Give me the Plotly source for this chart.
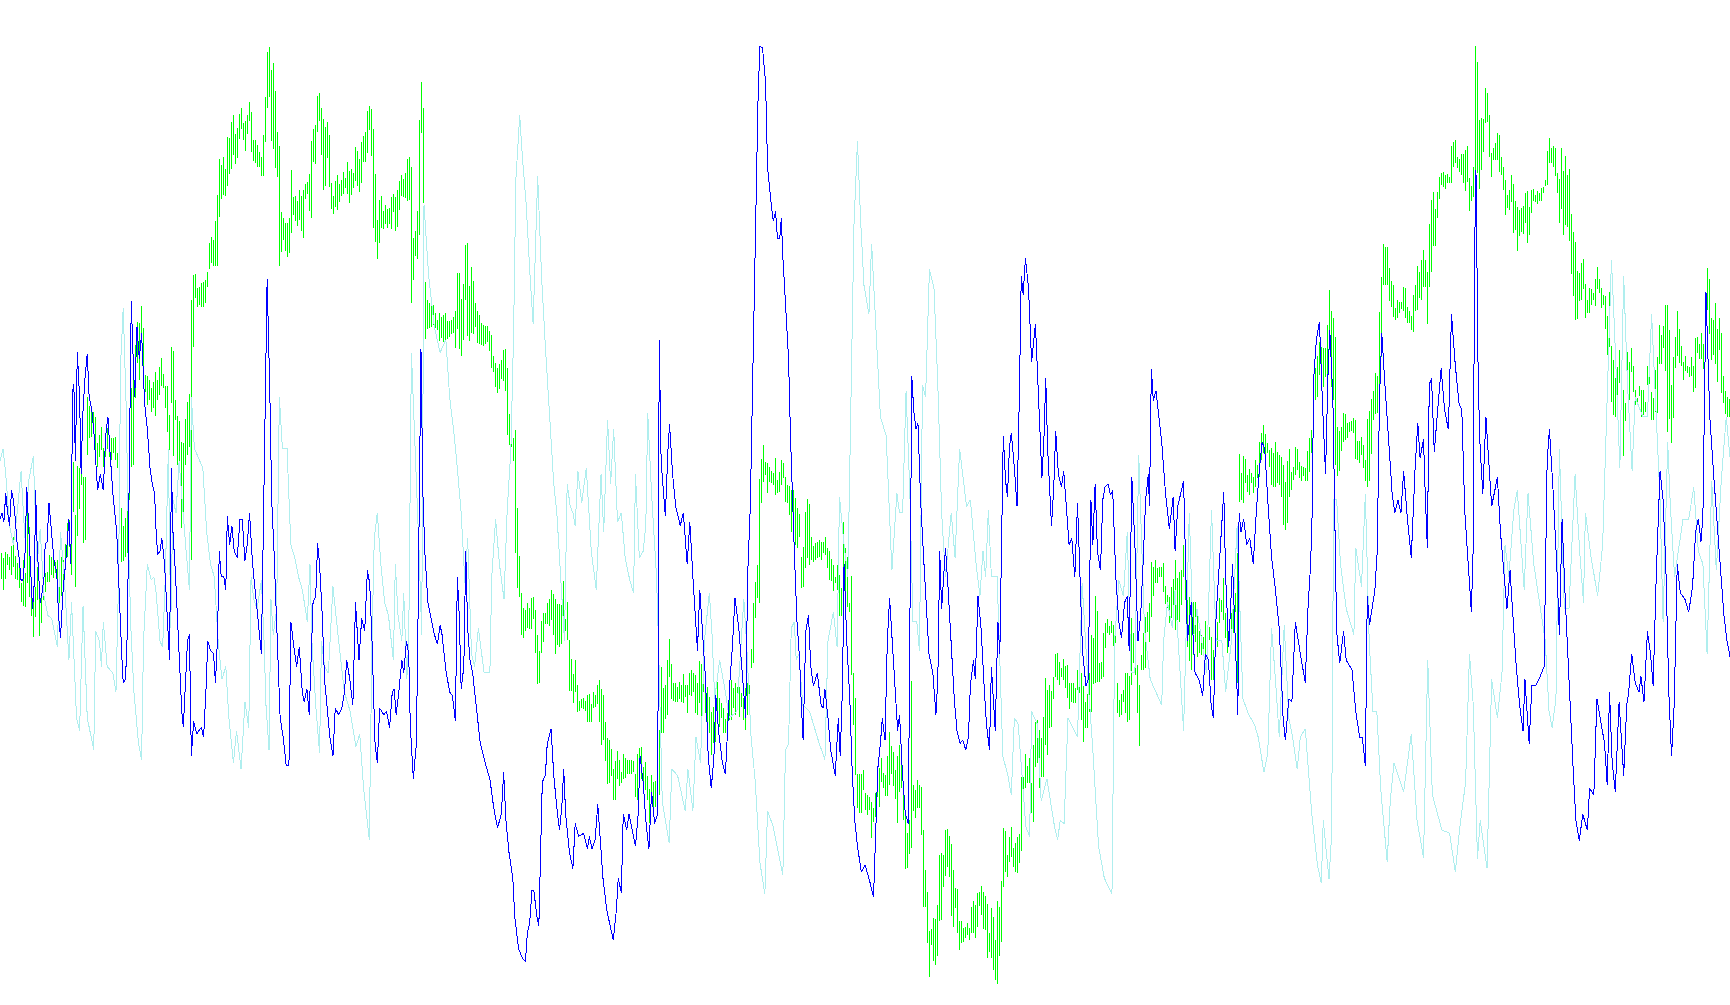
import numpy as np
import plotly.graph_objects as go

# Readings from the picture. Blue and pale lines: (sample, value) pairs read over three spans.
blue_a_x = [0,5,10,15,20,25,30,35,40,45,50,55,60,65,70,75,80,85,90,93,97,100,105,110,115,118,123,128,135,142,148,153,158,165,172,180,185,190,193,197,202,208,212,216,222,228,233,240,246,250,255,262,270,276,282,288,295,305,312,318,322,328,333,338,343,348,352,358,364,370,378,385,392,398,404,408,412,418,423,430,436,443,448,452,458,465,470,475,479,485,490,495,500,506,514,526,532,538,543,550,558,563,568,573,578,585,590,594,600,606,612,620,627,633,640,646,652,660,668,675,683,688,693,698,705,710,716,722,728,732,740,748,755,760,768,775,782,790,795,802,808,813,818,825,830,835,842,848,855,862,870,876,885,893,900,906,914,922,929,938,945,953,960,966,972,976,980,986,992,1003,1010,1018,1025,1030,1035,1042,1050,1055,1062,1068,1072,1080,1088,1092,1096,1100,1105,1110,1118,1125,1135,1143,1150,1155,1165,1175,1182,1190,1195,1200,1205,1212,1217,1222,1228,1235,1245,1255,1270,1280,1290,1300,1310,1316,1322,1330,1340,1345,1355,1365,1373,1378,1384,1390,1395,1403,1408,1413,1417,1425,1430,1440,1447,1455,1462,1468,1473,1478,1488,1497,1503,1512,1525,1535,1540,1547,1555,1562]
blue_a_y = [810,800,815,770,800,820,765,780,810,850,870,905,905,870,760,820,870,950,905,765,850,880,940,925,900,850,845,785,840,880,890,960,995,920,875,810,880,610,600,720,550,620,740,650,590,552,620,640,680,720,765,740,765,680,650,710,770,830,950,1020,1065,1060,980,720,470,560,620,510,560,520,630,670,730,755,770,830,865,860,840,880,960,1030,730,830,890,990,1060,1110,1135,1050,1000,990,1180,1125,1145,1135,1150,1080,1000,1015,1020,1065,1000,860,900,900,920,805,850,820,860,870,810,810,875,850,800,880,930,980,1020,830,600,435,610,780,860,960,1060,1120,1150,1195,1195,970,1010,1040,1010,1080,1095,1075,1115,1010,940,930,848,880,960,1060,1100,1150,1180,1105,1115,1105,1080,1030,1060,1100,940,1030,965,985,890,910,1000,1070,1160,1190,1105,1115,1110,1135,1080,1075,1115,1080,1030,1050,1000,1020,1130,1215,1160,980,780,545,770,860,940,960,990,1005,975,990,1045,1080,1085,1125,900,960,1075,1040,860,980,1030,1050,1110,1160,1195,1215,1260,1292,1270,1205,1280,1330,1370,1430,1480,1495,1500,1455,1440,1390,1390,1430,1445,1300,1220,1210,1160,1137,1210,1260,1295,1260,1200,1270,1330,1355,1285,1305,1300,1325,1305,1325,1310,1255]
blue_b_x = [55,60,70,87,95,100,108,113,122,128,145,152,157,165,172,180,187,195,203,207,212,218,223,230,234,242,250,262,270,280,287,295,302,307,313,320,328,335,343,350,355,362,372,380,386,392,398,405,415,425,433,438,445,452,457,465,470,477,485,490,500,505,511,516,522,526,530,537,545,550,555,560,567,574,578,583,590,597,603,610,620,630,635,640,648,655,667,675,680,686,690,697,705,711,718,725,735,745,757,767,771,778,785,790,797,803,809,815,823,830,835,842,850,858,862,867,872,878,883,890,897,905,912,922,930,935,940,945,955,962,970,978,985,993,1000,1008,1015,1020,1028,1033,1040,1048,1055,1062,1070,1075,1085,1092,1097,1102,1106,1112,1117,1122,1127,1135,1142,1148,1153,1158,1164,1172,1180,1190,1197,1203,1207,1212,1217,1222,1232,1238,1243,1250,1258,1264,1272,1278,1285,1293,1300,1308,1313,1322,1328,1335,1340,1346,1352,1360,1366,1372,1380,1386,1392,1400,1408,1415,1423,1430,1435,1442,1450,1458,1465,1472,1478,1485,1488,1493,1498,1505,1512,1520,1530,1540,1550,1555,1562]
blue_b_y = [1320,1370,1420,1467,1420,1370,1393,1270,1295,1270,1320,1270,1180,1220,1280,1325,1235,1285,1270,530,720,770,805,700,662,740,790,820,800,880,815,900,960,1015,920,990,1060,1180,1230,1180,1085,1140,1190,1208,1120,1060,1010,933,980,1060,1120,900,790,570,420,160,72,75,130,260,320,345,330,372,372,340,400,480,560,680,780,860,970,1030,1095,1155,985,960,1040,1070,1050,1100,1105,1075,1120,1170,1210,1120,1180,1070,880,1000,1090,1200,1280,1320,1360,1350,1375,1400,1330,1200,1160,1120,1155,1000,933,1000,1070,1140,1115,1200,1270,1285,1000,587,640,670,660,780,860,940,1020,1050,1115,1060,860,950,855,920,1000,1090,1140,1160,1155,1170,1150,1070,1030,1060,930,980,1060,1130,1170,1040,1140,970,1020,860,680,750,775,700,675,730,790,620,430,460,403,450,565,505,600,700,745,690,590,700,820,760,672,740,760,735,800,850,840,900,785,920,1015,1070,1060,780,850,755,860,890,780,760,755,772,765,900,970,995,940,930,1015,745,850,1000,960,870,780,740,790,575,625,610,650,690,770,825,775,860,790]
blue_c_x = [140,145,150,160,170,180,190,197,205,212,218,225,235,245,250,258,268,275,282,285,290,297,305,313,322,330,337,345,352,360,370,380,390,396,400,406,415,423,432,445,458,465,472,476,480,487,495,503,511,517,522,530,535,540,548,558,565,580,590,600,607,615,620,626,640,646,652,658,665,675,685,692,700,708,715,725,735,745,752,758,767,772,777,782,788,795,805,813,822,832,840,850,860,867,875,885,892,897,900,904,910,915,922,930,937,945,955,960,968,978,985,993,1000,1008,1018,1027,1032,1043,1050,1060,1072,1082,1090,1096,1105,1115,1122,1129,1137,1142,1150,1158,1165,1174,1183,1195,1201,1212,1220,1232,1240,1247,1253,1260,1268,1278,1290,1298,1303,1311,1320,1330,1335,1343,1352,1360,1367,1375,1385,1393,1400,1408,1415,1422,1430,1438,1450,1460,1470,1478,1485,1492,1497,1505,1515,1525,1535,1542,1552,1560,1568]
blue_c_y = [750,870,1000,940,1050,1060,1085,1020,1030,1100,1120,960,870,768,900,1010,880,1000,1115,800,830,810,850,840,880,800,740,690,700,780,870,920,980,1060,1120,1155,1090,1095,970,1020,1065,950,880,800,590,530,502,630,740,590,515,620,830,985,1035,985,1030,1045,1110,1150,1150,1195,930,975,920,860,620,520,590,680,770,800,780,800,735,810,870,730,660,715,685,780,855,600,590,705,625,575,640,670,490,570,630,640,800,900,955,850,410,265,600,700,770,650,720,790,760,745,830,900,950,890,960,1030,1100,1140,1060,1160,1070,1070,1055,1040,720,670,760,880,990,810,930,1000,1110,1200,1280,1312,1270,1295,1230,1240,1090,1130,1160,1225,1080,1190,1235,1095,1210,1100,1080,1020,1065,1080,1055,1095,985,1020,1070,900,735,780,880,1080,1180,1100,880,925,935,955,915,830,810,845,805,455,650,740,830,880,960,1000,1025]

cyan_a_x = [0,8,15,25,35,45,55,65,75,87,97,105,115,125,135,150,158,168,180,187,195,200,208,217,228,245,250,260,265,270,280,295,303,310,315,322,330,336,342,350,362,370,375,385,395,402,408,418,425,432,440,446,452,460,468,475,485,495,500,508,530,540,550,560,570,580,590,598,610,618,630,640,650,656,663,672,683,690,695,703,708,714,723,730,738,750,760,770,780,790,803,810,815,825,835,840,848,858,870,885,900,915,930,940,950,965,972,978,986,995,1005,1015,1028,1033,1040,1050,1055,1063,1068,1075,1085,1095,1102,1108,1120,1135,1150,1165,1175,1187,1195,1205,1215,1222,1232,1240,1250,1265,1280,1285,1295,1305,1317,1325,1335,1342,1348,1358,1365,1375,1385,1393,1405,1415,1425,1435,1447,1455,1465,1475,1482,1490,1497,1503,1510,1520,1532,1545,1558]
cyan_a_y = [720,700,740,820,850,800,735,840,750,712,880,825,930,960,965,1010,830,900,1030,940,1050,1120,1140,945,1120,1170,985,1000,1040,970,1040,1050,1080,900,570,480,640,850,980,1080,1160,1185,1000,880,905,900,925,1000,1010,900,700,980,780,800,720,780,850,920,620,700,730,830,880,900,1000,1060,1040,1120,1190,1140,1200,1095,1135,900,935,950,905,1000,1100,1170,935,990,950,620,700,700,850,870,900,920,970,880,1000,1100,1175,1000,1040,1050,915,1000,1080,1110,1165,1145,1230,1310,1000,840,800,880,940,960,1030,880,960,1000,925,1060,1000,550,700,860,990,320,430,510,550,530,620,680,730,800,910,840,1020,1040,980,1050,1050,900,810,880,935,800,700,520,280,180,245,320,430,505,275,430,540,640,755,800,900,1000,755,790,800,820,735,785,730,860,920]
cyan_b_x = [55,62,72,80,88,98,108,118,130,140,145,155,165,172,177,187,200,205,215,233,240,255,275,282,295,303,315,325,338,345,352,365,380,390,410,428,435,447,458,470,483,490,505,530,537,545,552,560,565,572,582,600,625,640,648,662,672,678,690,700,710,716,725,733,742,755,762,775,785,800,808,815,828,835,843,852,862,870,880,887,895,903,913,925,935,945,955,970,980,992,1010,1020,1035,1045,1053,1060,1067,1075,1090,1097,1105,1118,1127,1135,1145,1165,1175,1180,1195,1205,1220,1240,1248,1255,1265,1275,1300,1312,1325,1340,1355,1370,1390,1397,1408,1420,1430,1440,1450,1460,1475,1490,1505,1520,1525,1535,1548,1555]
cyan_b_y = [740,830,655,755,670,815,800,870,905,925,740,870,860,820,645,770,900,1000,1250,1315,1200,1210,1265,1200,1265,1150,1190,1000,925,990,1090,1030,1080,1120,1110,935,1000,1150,1220,1345,1395,1265,1290,1365,1170,1160,980,970,1030,1020,1100,1110,1160,1185,1000,955,1010,775,850,900,560,350,220,340,445,490,380,530,650,680,800,890,770,800,800,610,770,970,970,1015,600,620,420,450,600,800,900,800,870,700,790,780,880,930,860,900,795,900,900,1020,1180,1210,1240,1120,1130,1290,1305,1110,1130,1250,1215,1290,1310,1280,1285,1120,1150,910,1040,1170,1320,1370,1395,1000,905,930,830,1050,1050,710,980,1060,1080,1100,1000,940,980,920]
cyan_c_x = [140,155,165,175,200,213,225,240,250,265,280,295,310,325,335,350,360,370,380,390,403,415,425,437,445,458,475,490,500,505,520,527,532,540,550,565,585,590,605,615,625,635,645,655,672,680,690,715,735,750,767,778,790,815,835,850,862,877,887,897,908,915,933,945,960,972,980,990,1003,1012,1030,1040,1055,1085,1095,1103,1113,1122,1135,1147,1163,1175,1185,1190,1205,1222,1235,1245,1258,1265,1272,1280,1290,1300,1312,1320,1340,1352,1363,1375,1385,1393,1405,1412,1423,1445,1460,1473,1485,1497,1508,1520,1532,1545,1558,1568]
cyan_c_y = [1140,800,1000,950,1050,795,1000,1000,1080,1000,820,1090,1115,1130,1150,1205,1175,980,1060,1150,975,1120,1150,1200,1150,1137,1270,1350,1378,1280,1372,1300,780,780,880,950,990,855,915,770,1000,1110,1110,1230,1345,1250,1190,1235,1145,1280,1338,1030,1240,1295,1300,1360,1290,1220,1020,1100,1340,1280,1355,1060,1120,1050,850,900,795,765,920,770,880,1000,1110,1135,1090,700,950,950,740,860,940,800,870,930,850,650,405,500,620,730,430,600,735,620,650,650,490,650,780,970,690,790,900,810,810,760,860,880,1020,750,890,750,650,715]

# Green bars: high and low of every bar, read span by span.
green_1_top = [758,775,756,762,770,738,712,768,790,800,850,780,820,640,680,850,880,860,800,880,880,850,820,815,765,770,770,785,780,795,770,780,733,670,660,665,487,645,498,505,495,530,530,290,318,335,337,352,430,405,380,445,410,385,410,415,415,412,460,500,625,678,655,603,490,265,185,135,65,70,18,85,225,228,240,265,245,215,240,200,175,222,258,258,345,140,153,300,348,363,425,430,358,305,282,0,-75,-78,-35,-40,-50,-55,-60,-85,-171,-189,-180,-237]
green_1_bottom = [838,870,836,795,810,825,800,838,840,865,905,917,920,850,890,948,1010,950,900,1008,970,900,875,845,845,825,835,818,855,910,887,875,793,770,740,824,635,862,708,628,555,728,720,465,415,412,390,465,500,470,450,500,470,448,470,480,460,480,503,625,785,782,770,760,600,500,495,295,190,240,120,225,275,315,300,337,325,347,300,285,258,265,323,395,450,310,468,360,495,495,683,660,495,465,440,780,140,-5,22,15,22,22,10,-40,-93,-111,-102,-102]
green_2_top = [465,357,375,352,388,292,295,247,225,282,265,222,205,250,243,225,186,216,300,300,316,336,350,286,170,37,22,90,70,153,277,318,517,534,548,550,534,391,472,468,484,450,468,450,432,426,402,303,267,255,168,160,205,236,260,246,285,430,468,423,405,432,420,396,415,366,392,386,400,321,333,356,306,288,276,213,198,207,267,402,540,480,468,513,495,507,505,471,462,471,450,423,405,417,400,357,351,381,594,573,513,240,126,204,725,780,789,780]
green_2_bottom = [678,530,477,465,468,438,402,387,345,372,354,298,268,300,332,282,243,336,362,368,380,382,407,407,305,204,172,303,326,384,410,677,635,600,632,650,638,578,525,543,557,540,572,593,477,462,513,533,366,371,275,242,345,450,437,355,440,507,521,502,510,487,468,463,443,462,489,465,444,422,437,456,430,365,366,340,270,348,565,605,657,608,564,567,552,563,552,568,517,573,560,510,468,471,474,483,480,789,720,648,657,585,278,490,897,867,864,861]
green_3_top = [182,204,224,203,215,210,205,228,228,224,216,200,92,92,165,123,14,8,130,76,115,177,200,210,231,238,240,242,255,266,325,345,358,348,335,308,306,358,488,488,555,532,750,885,988,1030,1035,1015,1030,1003,1000,1035,1105,1150,1068,1045,1045,1015,1005,980,990,1005,1020,1020,1023,955,1060,1014,1120,1172,1215,1175,1245,1290,1285,1282,1292,1275,1270,1300,1266,1275,1245,1233,1258,1275,1350,1395,1400,1425,1480,1458,1430,1455,1490,1440,1450,1455,1457,1455,1460,1495,1440,1422,1420,1475,1462,1500]
green_3_bottom = [238,245,252,282,275,285,285,278,272,262,260,302,250,305,324,280,168,270,283,260,262,244,287,292,294,296,290,285,310,358,370,412,428,418,390,395,422,545,575,580,620,875,973,1000,1105,1115,1095,1085,1090,1090,1060,1155,1242,1240,1155,1125,1075,1075,1080,1065,1105,1158,1135,1140,1130,1060,1095,1120,1262,1262,1295,1265,1322,1320,1310,1312,1320,1350,1350,1350,1310,1308,1300,1350,1415,1400,1460,1522,1520,1500,1568,1568,1510,1530,1520,1510,1505,1495,1495,1495,1490,1560,1568,1530,1510,1540,1540,1568]
green_4_top = [1048,1005,1025,1022,1000,870,680,745,735,660,598,672,730,730,740,727,735,702,735,735,698,690,700,705,730,662,672,700,745,740,770,815,800,815,725,775,790,805,838,820,770,720,745,730,742,740,760,775,745,730,735,627,490,425,375,118,57,15,65,70,80,92,100,55,120,95,60,68,110,135,138,150,150,175,205,222,350,320,215,178,192,290,318,310,305,300,305,305,290,325,333,357,375,410,375,405,445,245,325,350,490,408,700,775,1003,1003,1003,990]
green_4_bottom = [1148,1090,1105,1100,1100,1065,880,880,838,825,710,778,782,785,785,778,785,788,770,820,765,768,755,818,825,790,830,755,820,905,880,945,908,905,825,860,835,878,880,862,840,840,805,825,780,830,800,840,870,825,770,685,670,535,475,490,190,125,105,158,125,130,135,165,160,155,135,115,185,190,225,275,240,315,325,290,445,440,385,355,375,360,365,360,355,350,360,340,345,385,420,422,452,430,450,528,528,460,480,500,515,705,855,1005,1105,1120,1120,1050]
green_5_top = [430,435,440,455,475,430,365,355,325,370,375,318,245,288,305,360,318,285,340,430,490,548,510,92,405,420,390,405,410,540,660,725,842,838,805,808,765,615,610,615,540,538,558,582,660,715,718,812,812,835,832,820,835,770,752,765,728,725,708,725,738,762,848,775,800,870,752,770,692,533,543,615,560,532,595,578,560,552,380,380,312,348,325,400,285,215,210,240,265,200,85,120,105,122,82,12,10,35,55,28,47,45,100,100,100,115,60,48]
green_5_bottom = [480,495,480,565,515,500,440,472,395,415,438,438,405,372,408,447,518,425,415,510,657,655,612,595,483,505,475,475,555,770,770,880,982,885,932,945,918,812,810,710,678,650,680,798,830,775,850,900,880,875,865,855,870,850,848,865,830,768,795,838,840,925,905,925,960,990,1002,918,875,710,665,680,635,622,650,665,670,640,603,440,415,400,400,490,515,350,340,415,380,380,285,315,235,232,148,82,90,105,80,90,115,145,178,155,158,160,120,128]
green_6_top = [760,798,845,822,758,645,655,528,572,728,725,640,610,598,618,602,615,610,790,840,822,810,758,760,768,595,640,730,735,795,705,640,590,575,550,425,440,420,445,440,440,430,498,525,530,500,478,420,475,455,450,375,450,455,530,590,545,545,575,632,645,650,603,625,620,650,690,690,605,535,540,473,580,565,605,578,518,520,400,102,160,108,118,165,148,160,170,120,135,65,38,15,42,68,90,85,100,65,95,105,110,135,185,122,87,155,140,82]
green_6_bottom = [900,965,925,925,875,875,792,788,785,785,778,770,685,640,645,638,678,668,878,892,885,845,880,905,900,795,730,765,880,978,750,750,745,635,665,592,528,490,488,470,470,515,552,565,610,595,590,630,600,605,555,470,540,680,722,750,705,665,712,698,705,690,720,710,660,780,780,710,680,610,575,600,655,700,640,640,640,575,790,245,240,250,190,215,225,190,218,200,175,172,120,100,110,100,140,195,200,200,190,195,232,315,330,310,232,210,180,165]
green_7_top = [1228,1265,1278,1282,1285,1232,1195,1170,1035,985,948,905,920,925,925,855,750,812,835,892,1160,1172,1162,1120,1122,1148,1145,1142,1133,1140,1202,1203,1192,1215,1260,1138,1113,1078,1052,1000,1008,815,710,612,622,622,685,722,735,805,780,785,785,740,745,800,812,828,765,735,678,695,660,630,660,695,552,480,455,508,455,410,398,395,405,403,410,318,305,300,350,358,342,342,330,318,415,437,380,18,65,240,235,237,144,160,225,340,325,310,280,285,350,380,420,465,450,405]
green_7_bottom = [1290,1313,1323,1308,1322,1322,1295,1240,1180,1080,1072,1005,1040,1040,1010,1010,930,1040,1080,1275,1308,1292,1232,1205,1200,1195,1175,1172,1180,1258,1260,1270,1245,1285,1322,1342,1322,1242,1140,1122,1120,1060,950,735,735,735,782,800,830,840,835,820,808,812,835,850,850,870,875,812,810,775,780,740,740,852,740,695,618,618,533,477,435,440,447,430,430,430,380,368,385,395,405,428,452,425,513,482,472,390,400,447,390,335,248,245,352,410,360,360,360,395,405,450,525,505,510,485]
green_8_top = [162,212,232,240,235,228,190,183,230,180,178,195,183,188,173,170,150,63,25,55,48,53,130,148,55,123,78,135,118,252,306,337,423,430,400,388,462,510,475,478,490,447,410,447,475,495,498,558,485,648,690,745,712,660,740,780,820,667,697,655,708,780,805,768,780,780,815,708,712,785,805,720,682,585,615,588,525,525,600,765,682,622,544,598,648,695,678,708,712,682,708,625,620,642,610,642,492,415,447,565,570,518,598,565,608,737,783,802,808]
green_8_bottom = [308,300,362,318,305,312,280,338,315,250,212,215,222,212,212,190,168,165,98,100,110,138,188,278,238,315,285,292,332,432,498,570,568,512,510,477,565,550,548,525,510,528,478,490,533,525,598,675,650,815,855,860,820,760,815,978,872,790,810,725,785,825,825,798,862,855,845,765,762,870,870,845,848,702,702,655,722,905,868,940,865,715,678,700,708,750,722,730,742,738,785,775,670,688,688,718,610,540,612,690,675,702,755,660,790,820,852,860,862]

# Scale of each reading: where it starts on the chart, its first height and its vertical scale.
green_spans = [
    (green_1_top, green_1_bottom, 0, 300, 3.0),
    (green_2_top, green_2_bottom, 216, 40, 3.0),
    (green_3_top, green_3_bottom, 432, 240, 2.8),
    (green_4_top, green_4_bottom, 648, 440, 3.0),
    (green_5_top, green_5_bottom, 864, 650, 3.0),
    (green_6_top, green_6_bottom, 1080, 420, 3.0),
    (green_7_top, green_7_bottom, 1296, 40, 3.0),
    (green_8_top, green_8_bottom, 1512, 130, 3.0),
]

LINE_X_SCALE = 2.613
LINE_Y_SCALE = 1568 / 1005

def line_x(values, start):
    return start + np.asarray(values) / LINE_X_SCALE

def line_y(*parts):
    return np.concatenate([np.asarray(p) for p in parts]) / LINE_Y_SCALE

blue_x = np.concatenate([line_x(blue_a_x, 0), line_x(blue_b_x, 580), line_x(blue_c_x, 1130)])
blue_y = line_y(blue_a_y, blue_b_y, blue_c_y)
cyan_x = np.concatenate([line_x(cyan_a_x, 0), line_x(cyan_b_x, 580), line_x(cyan_c_x, 1130)])
cyan_y = line_y(cyan_a_y, cyan_b_y, cyan_c_y)

gx, gy = [], []
for top, bottom, x0, y0, scale in green_spans:
    for i, (t, b) in enumerate(zip(top, bottom)):
        x = x0 + 1.5 + 2 * i
        gx += [x, x, None]
        gy += [y0 + t / scale, y0 + b / scale, None]

fig = go.Figure()
fig.add_trace(go.Scatter(x=gx, y=gy, mode="lines", line=dict(color="#00ff00", width=1), hoverinfo="skip"))
fig.add_trace(go.Scatter(x=cyan_x, y=cyan_y, mode="lines", line=dict(color="#afeeee", width=1), hoverinfo="skip"))
fig.add_trace(go.Scatter(x=blue_x, y=blue_y, mode="lines", line=dict(color="#0000ff", width=1), hoverinfo="skip"))
fig.update_layout(
    width=1730, height=1005, margin=dict(l=0, r=0, t=0, b=0),
    paper_bgcolor="white", plot_bgcolor="white", showlegend=False,
    xaxis=dict(range=[0, 1730], visible=False),
    yaxis=dict(range=[1005, 0], visible=False),
)
fig.write_html(
    "out.html",
    config=dict(displayModeBar=False),
    post_script=(
        "document.body.style.margin='0';"
        "var s=document.createElement('style');"
        "s.textContent='.js-line{shape-rendering:crispEdges !important;}';"
        "document.head.appendChild(s);"
    ),
)
